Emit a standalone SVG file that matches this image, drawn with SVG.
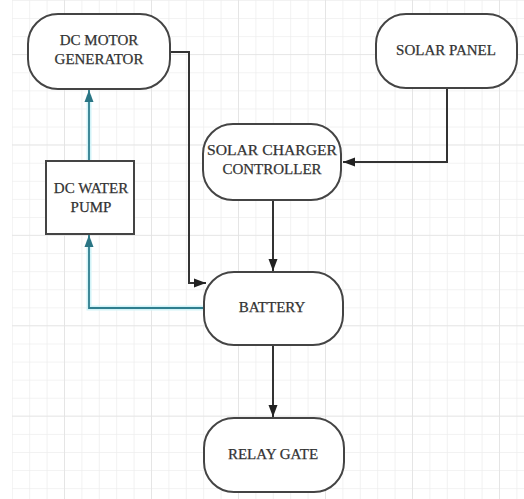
<svg xmlns="http://www.w3.org/2000/svg" width="524" height="499" viewBox="0 0 524 499">
  <style>
    .node { fill: #ffffff; stroke: #444444; stroke-width: 2; }
    .lbl { font-family: 'Liberation Serif', 'Times New Roman', serif; font-size: 15px; fill: #333333; text-anchor: middle; stroke: #333333; stroke-width: 0.25; }
    .wire { fill: none; stroke: #333333; stroke-width: 2; }
    .glow { fill: none; stroke: #d2f3f8; stroke-width: 5; }
    .blue { fill: none; stroke: #2f7e8e; stroke-width: 1.8; }
  </style>
  <defs>
    <pattern id="minor" patternUnits="userSpaceOnUse" x="11.8" y="0" width="17.4" height="18.08">
      <path d="M0,0 V18.08 M0,0 H17.4" fill="none" stroke="#eeeeee" stroke-width="1.6"/>
    </pattern>
    <pattern id="major" patternUnits="userSpaceOnUse" x="64" y="54" width="87" height="90.4">
      <path d="M0,0 V90.4 M0,0 H87" fill="none" stroke="#e3e3e3" stroke-width="1.6"/>
    </pattern>
    <marker id="ah" markerUnits="userSpaceOnUse" markerWidth="13" markerHeight="10" refX="12" refY="5" orient="auto">
      <path d="M0,0.5 L12,5 L0,9.5 z" fill="#222222"/>
    </marker>
    <marker id="ahb" markerUnits="userSpaceOnUse" markerWidth="13" markerHeight="10" refX="12" refY="5" orient="auto">
      <path d="M0,0.5 L12,5 L0,9.5 z" fill="#2a7584"/>
    </marker>
  </defs>
  <rect x="0" y="0" width="524" height="499" fill="#ffffff"/>
  <rect x="12" y="0" width="512" height="499" fill="url(#minor)"/>
  <rect x="12" y="0" width="512" height="499" fill="url(#major)"/>

  <g id="connectors">
    <path class="wire" d="M170,52 H189 V283 H206" marker-end="url(#ah)"/>
    <path class="wire" d="M447,88 V162 H343" marker-end="url(#ah)"/>
    <path class="wire" d="M273,200 V271" marker-end="url(#ah)"/>
    <path class="wire" d="M273,345 V417" marker-end="url(#ah)"/>
    <path class="glow" d="M204,308 H89 V240"/>
    <path class="blue" d="M204,308 H89 V235" marker-end="url(#ahb)"/>
    <path class="glow" d="M89,161 V95"/>
    <path class="blue" d="M89,161 V90" marker-end="url(#ahb)"/>
  </g>

  <g id="dc-motor-generator">
    <rect class="node" x="28" y="14" width="142" height="75" rx="30" ry="30"/>
    <text class="lbl" font-family="Liberation Serif, serif" x="99" y="45">DC MOTOR</text>
    <text class="lbl" font-family="Liberation Serif, serif" x="99" y="64">GENERATOR</text>
  </g>
  <g id="solar-panel">
    <rect class="node" x="376" y="14" width="141" height="74" rx="30" ry="30"/>
    <text class="lbl" font-family="Liberation Serif, serif" x="446" y="55">SOLAR PANEL</text>
  </g>
  <g id="dc-water-pump">
    <rect class="node" x="46" y="161" width="88" height="73"/>
    <text class="lbl" font-family="Liberation Serif, serif" x="91" y="193">DC WATER</text>
    <text class="lbl" font-family="Liberation Serif, serif" x="91" y="212">PUMP</text>
  </g>
  <g id="solar-charger-controller">
    <rect class="node" x="203" y="124" width="138" height="76" rx="30" ry="30"/>
    <text class="lbl" font-family="Liberation Serif, serif" x="272" y="155" textLength="130" lengthAdjust="spacingAndGlyphs">SOLAR CHARGER</text>
    <text class="lbl" font-family="Liberation Serif, serif" x="272" y="174">CONTROLLER</text>
  </g>
  <g id="battery">
    <rect class="node" x="204" y="272" width="139" height="73" rx="30" ry="30"/>
    <text class="lbl" font-family="Liberation Serif, serif" x="272" y="312">BATTERY</text>
  </g>
  <g id="relay-gate">
    <rect class="node" x="204" y="418" width="140" height="74" rx="30" ry="30"/>
    <text class="lbl" font-family="Liberation Serif, serif" x="273" y="459">RELAY GATE</text>
  </g>
</svg>
